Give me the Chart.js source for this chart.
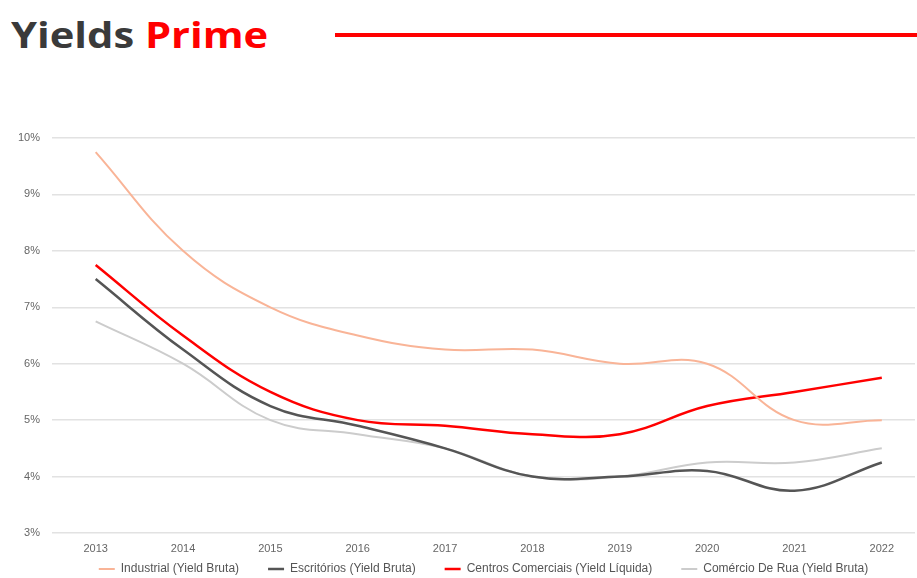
<!DOCTYPE html>
<html>
<head>
<meta charset="utf-8">
<script src="https://cdn.jsdelivr.net/npm/chart.js@4/dist/chart.umd.min.js"></script>
<style>
    html, body { margin: 0; padding: 0; background: #fff; overflow: hidden; }
    body { width: 917px; height: 578px; position: relative; }
    #title {
        position: absolute; left: 11px; top: 10px;
        font-family: 'Open Sans', sans-serif; font-weight: 700; font-size: 35px;
        color: #3a3a3a; line-height: 50px; white-space: nowrap;
        transform: scaleX(1.19); transform-origin: left center;
    }
    #title span { color: #ff0000; }
    #rule { position: absolute; left: 335px; top: 33px; width: 582px; height: 4px; background: #ff0000; }
    #wrap { position: absolute; left: 0; top: 100px; width: 917px; height: 508px; }
</style>
</head>
<body>
<div id="title">Yields <span>Prime</span></div>
<div id="rule"></div>
<div id="wrap"><canvas id="yieldsChart"></canvas></div>
<script>
// Data
const years = [2013, 2014, 2015, 2016, 2017, 2018, 2019, 2020, 2021, 2022];
const industrial = [9.75, 8.0, 7.0, 6.5, 6.25, 6.25, 6.0, 6.0, 5.0, 5.0];
const escritorios = [7.5, 6.25, 5.25, 4.9, 4.5, 4.0, 4.0, 4.1, 3.75, 4.25];
const centrosComerciais = [7.75, 6.5, 5.5, 5.0, 4.9, 4.75, 4.75, 5.25, 5.5, 5.75];
const comercioRua = [6.75, 6.0, 5.0, 4.75, 4.5, 4.0, 4.0, 4.25, 4.25, 4.5];
const yTicks = [3, 4, 5, 6, 7, 8, 9, 10];

function toPoints(values) {
    return values.map((v, i) => ({ x: years[i], y: v }));
}

function makeSeries(label, values, color, width) {
    return {
        label: label,
        data: toPoints(values),
        borderColor: color,
        backgroundColor: color,
        borderWidth: width,
        pointRadius: 0,
        pointHoverRadius: 0,
        tension: 0.4,
        fill: false
    };
}

// legend items sit far apart horizontally but close to the axis labels,
// so pull the legend box up (and a bit right, centred on the plot) after layout
const legendNudge = {
    id: 'legendNudge',
    afterLayout(chart) {
        const lg = chart.legend;
        if (!lg) return;
        const shift = lg.options.labels.padding - 6;
        lg.top -= shift;
        lg.bottom -= shift;
        const dx = (chart.chartArea.left + chart.chartArea.right - lg.left - lg.right) / 2;
        lg.left += dx;
        lg.right += dx;
    }
};

const ctx = document.getElementById('yieldsChart').getContext('2d');
new Chart(ctx, {
    type: 'line',
    data: {
        datasets: [
            makeSeries('Industrial (Yield Bruta)', industrial, '#f9b497', 2),
            makeSeries('Escritórios (Yield Bruta)', escritorios, '#555555', 2.5),
            makeSeries('Centros Comerciais (Yield Líquida)', centrosComerciais, '#ff0000', 2.5),
            makeSeries('Comércio De Rua (Yield Bruta)', comercioRua, '#cccccc', 2)
        ]
    },
    plugins: [legendNudge],
    options: {
        responsive: true,
        maintainAspectRatio: false,
        animation: false,
        layout: { padding: { left: 0, right: 2, top: 38, bottom: 0 } },
        plugins: {
            legend: {
                position: 'bottom',
                labels: {
                    usePointStyle: true,
                    pointStyle: 'line',
                    pointStyleWidth: 16,
                    padding: 29,
                    color: '#555',
                    font: { family: 'Liberation Sans, Arial', size: 12 }
                }
            },
            tooltip: { enabled: false }
        },
        scales: {
            x: {
                type: 'linear',
                min: 2012.5,
                max: 2022.38,
                afterBuildTicks: scale => {
                    scale.ticks = years.map(y => ({ value: y }));
                },
                afterFit: scale => { scale.height = 24; },
                ticks: {
                    color: '#666',
                    font: { family: 'Liberation Sans, Arial', size: 11 },
                    padding: 9,
                    callback: v => String(v)
                },
                grid: { display: false, drawTicks: false },
                border: { display: false }
            },
            y: {
                min: 3,
                max: 10,
                afterBuildTicks: scale => {
                    scale.ticks = yTicks.map(v => ({ value: v }));
                },
                afterFit: scale => { scale.width = 52; },
                ticks: {
                    color: '#666',
                    padding: 12,
                    font: { family: 'Liberation Sans, Arial', size: 11 },
                    callback: v => v + '%'
                },
                grid: { color: '#e2e2e2', lineWidth: 1.5, drawTicks: false },
                border: { display: false }
            }
        }
    }
});
</script>
</body>
</html>
